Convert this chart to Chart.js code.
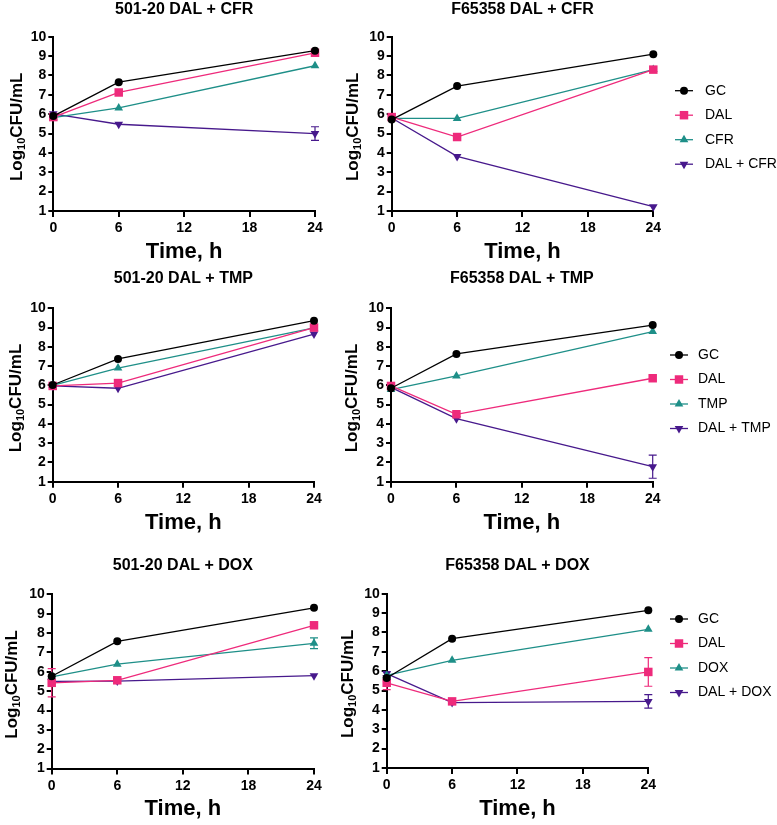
<!DOCTYPE html>
<html>
<head>
<meta charset="utf-8">
<title>Time-kill curves</title>
<script src="https://cdn.jsdelivr.net/npm/chart.js@4.4.1/dist/chart.umd.min.js"></script>
<style>
  html, body { margin: 0; padding: 0; background: #fff; }
  #figure { position: relative; width: 777px; height: 825px; overflow: hidden; }
  #figure canvas { position: absolute; }
</style>
</head>
<body>
<div id="figure"></div>
<script>
// sampling times (h)
const hours = [0, 6, 24];

// one row per panel: 501-20/F65358 x CFR, TMP, DOX
const panelTitles = [
  '501-20 DAL + CFR', 'F65358 DAL + CFR',
  '501-20 DAL + TMP', 'F65358 DAL + TMP',
  '501-20 DAL + DOX', 'F65358 DAL + DOX'
];
const partnerDrugs = ['CFR', 'CFR', 'TMP', 'TMP', 'DOX', 'DOX'];

// mean log10 CFU/mL at 0, 6, 24 h
const gcLog = [
  [5.90, 7.65, 9.28], [5.72, 7.45, 9.10],
  [6.02, 7.37, 9.36], [5.85, 7.63, 9.13],
  [5.77, 7.57, 9.30], [5.65, 7.68, 9.14]
];
const dalLog = [
  [5.85, 7.12, 9.17], [5.85, 4.82, 8.30],
  [5.97, 6.12, 9.00], [5.97, 4.50, 6.37],
  [5.43, 5.56, 8.40], [5.40, 4.44, 5.96]
];
const partnerLog = [
  [5.82, 6.32, 8.50], [5.78, 5.78, 8.30],
  [6.00, 6.90, 8.98], [5.78, 6.49, 8.79],
  [5.74, 6.39, 7.47], [5.78, 6.56, 8.16]
];
const comboLog = [
  [6.02, 5.48, 5.00], [5.80, 3.82, 1.22],
  [5.97, 5.85, 8.66], [5.90, 4.27, 1.78],
  [5.50, 5.52, 5.80], [5.87, 4.38, 4.44]
];

// standard deviations (0 = bar hidden behind marker)
const gcSd = [[0,0,0],[0,0,0],[0,0,0],[0,0,0],[0,0,0],[0,0,0]];
const dalSd = [[0,0,0],[0,0,0],[0,0,0],[0,0,0],[0.73,0,0],[0.35,0,0.74]];
const partnerSd = [[0,0,0],[0,0,0],[0,0,0],[0,0,0],[0,0,0.28],[0,0,0]];
const comboSd = [[0,0,0.35],[0,0,0],[0,0,0],[0,0,0.6],[0,0,0],[0.1,0,0.35]];

const FONT = 'Arial, "Liberation Sans", Helvetica, sans-serif';
const colors = { gc: '#000000', dal: '#EE2A7B', partner: '#1E8F88', combo: '#47198C' };

// canvas box [x, y, w, h] and plot box [left, top, right, bottom] in page px
const panels = [
  { box: [0, 0, 335, 268],   plot: [53.3, 36.7, 315, 211],     titleY: 9.5, labelX: 15.5, timeY: 252 },
  { box: [335, 0, 442, 268], plot: [391.7, 36.7, 653.3, 211],  titleY: 9.5, labelX: 352,  timeY: 252, legend: [675, 705, 90.7] },
  { box: [0, 268, 335, 280], plot: [52.7, 308.3, 314, 481.7],  titleY: 279, labelX: 14.5, timeY: 523 },
  { box: [335, 268, 442, 280], plot: [391, 308.3, 652.7, 481.7], titleY: 279, labelX: 351, timeY: 523, legend: [670, 698, 355] },
  { box: [0, 548, 335, 277], plot: [51.7, 594.3, 314, 768.6],  titleY: 566, labelX: 11,   timeY: 808.5 },
  { box: [335, 548, 442, 277], plot: [386.7, 593.7, 648.3, 768], titleY: 566, labelX: 347, timeY: 808.5, legend: [670, 698, 619] }
];

// SD whiskers drawn under the markers
const errorBars = {
  id: 'errorBars',
  beforeDatasetsDraw(chart) {
    const { ctx } = chart;
    const xs = chart.scales.x, ys = chart.scales.y;
    chart.data.datasets.forEach(ds => {
      if (!ds.sd) return;
      ctx.save();
      ctx.strokeStyle = ds.borderColor;
      ctx.lineWidth = 1.2;
      ds.data.forEach((pt, j) => {
        const sd = ds.sd[j];
        if (!sd) return;
        const x = xs.getPixelForValue(pt.x);
        const yt = ys.getPixelForValue(pt.y + sd);
        const yb = ys.getPixelForValue(pt.y - sd);
        ctx.beginPath();
        ctx.moveTo(x, yt); ctx.lineTo(x, yb);
        ctx.moveTo(x - 4, yt); ctx.lineTo(x + 4, yt);
        ctx.moveTo(x - 4, yb); ctx.lineTo(x + 4, yb);
        ctx.stroke();
      });
      ctx.restore();
    });
  }
};

// panel title, y label with subscript, and the line+marker legend
const panelDecor = {
  id: 'panelDecor',
  afterDraw(chart, args, opts) {
    const { ctx, chartArea: a } = chart;
    ctx.save();
    ctx.fillStyle = '#000';
    ctx.font = `bold 16px ${FONT}`;
    ctx.textAlign = 'center';
    ctx.textBaseline = 'middle';
    ctx.fillText(opts.title, (a.left + a.right) / 2, opts.titleY);

    // Log10CFU/mL, rotated
    ctx.save();
    ctx.translate(opts.labelX, (a.top + a.bottom) / 2 + 3);
    ctx.rotate(-Math.PI / 2);
    const big = `bold 17px ${FONT}`, small = `bold 11px ${FONT}`;
    ctx.font = big;
    const w1 = ctx.measureText('Log').width, w3 = ctx.measureText('CFU/mL').width;
    ctx.font = small;
    const w2 = ctx.measureText('10').width;
    let x = -(w1 + w2 + w3) / 2;
    ctx.textAlign = 'left';
    ctx.textBaseline = 'alphabetic';
    ctx.font = big; ctx.fillText('Log', x, 6); x += w1;
    ctx.font = small; ctx.fillText('10', x, 9); x += w2;
    ctx.font = big; ctx.fillText('CFU/mL', x, 6);
    ctx.restore();

    if (opts.legend) {
      const [lx, tx, y0] = opts.legend;
      chart.data.datasets.forEach((ds, i) => {
        const y = y0 + i * 24.5;
        ctx.strokeStyle = ds.borderColor;
        ctx.lineWidth = ds.borderWidth;
        ctx.beginPath();
        ctx.moveTo(lx, y); ctx.lineTo(lx + 18, y);
        ctx.stroke();
        ctx.fillStyle = ds.pointBackgroundColor;
        Chart.helpers.drawPoint(ctx, {
          pointStyle: ds.pointStyle, radius: ds.pointRadius,
          rotation: ds.pointRotation || 0, borderWidth: 0
        }, lx + 9, y);
        ctx.fillStyle = '#000';
        ctx.font = `14px ${FONT}`;
        ctx.textAlign = 'left';
        ctx.textBaseline = 'middle';
        ctx.fillText(ds.label, tx, y);
      });
    }
    ctx.restore();
  }
};

function series(label, vals, sd, color, style, radius, rotation) {
  return {
    label,
    data: hours.map((h, j) => ({ x: h, y: vals[j] })),
    sd,
    borderColor: color,
    backgroundColor: color,
    borderWidth: 1.3,
    pointStyle: style,
    pointRadius: radius,
    pointHoverRadius: radius,
    pointRotation: rotation,
    pointBackgroundColor: color,
    pointBorderWidth: 0,
    clip: false
  };
}

const fig = document.getElementById('figure');

panels.forEach((p, i) => {
  const [cx, cy, cw, ch] = p.box;
  const [L, T, R, B] = p.plot;
  const canvas = document.createElement('canvas');
  canvas.width = cw; canvas.height = ch;
  canvas.style.left = cx + 'px';
  canvas.style.top = cy + 'px';
  canvas.style.width = cw + 'px';
  canvas.style.height = ch + 'px';
  fig.appendChild(canvas);

  const yAxisWidth = L - cx;
  const xAxisHeight = cy + ch - B;
  const drug = partnerDrugs[i];

  new Chart(canvas.getContext('2d'), {
    type: 'line',
    data: {
      datasets: [
        series('GC', gcLog[i], gcSd[i], colors.gc, 'circle', 4, 0),
        series('DAL', dalLog[i], dalSd[i], colors.dal, 'rect', 6, 0),
        series(drug, partnerLog[i], partnerSd[i], colors.partner, 'triangle', 5, 0),
        series('DAL + ' + drug, comboLog[i], comboSd[i], colors.combo, 'triangle', 5, 180)
      ]
    },
    options: {
      responsive: false,
      maintainAspectRatio: false,
      animation: false,
      events: [],
      layout: { padding: { left: 0, top: T - cy, right: cx + cw - R, bottom: 0 } },
      scales: {
        x: {
          type: 'linear', min: 0, max: 24,
          ticks: { stepSize: 6, autoSkip: false, maxRotation: 0, color: '#000', padding: 3, font: { size: 14, weight: 'bold', family: FONT } },
          grid: { drawOnChartArea: false, drawTicks: true, tickLength: 6, color: '#000', lineWidth: 2 },
          border: { display: true, color: '#000', width: 2 },
          title: {
            display: true, text: 'Time, h', color: '#000',
            font: { size: 22, weight: 'bold', family: FONT },
            padding: { top: 0, bottom: cy + ch - p.timeY - 13.2 }
          },
          afterFit(s) { s.height = xAxisHeight; }
        },
        y: {
          min: 1, max: 10,
          ticks: { stepSize: 1, autoSkip: false, color: '#000', padding: 2, font: { size: 14, weight: 'bold', family: FONT } },
          grid: { drawOnChartArea: false, drawTicks: true, tickLength: 5, color: '#000', lineWidth: 2 },
          border: { display: true, color: '#000', width: 2 },
          afterFit(s) { s.width = yAxisWidth; }
        }
      },
      plugins: {
        legend: { display: false },
        tooltip: { enabled: false },
        panelDecor: {
          title: panelTitles[i],
          titleY: p.titleY - cy,
          labelX: p.labelX - cx,
          legend: p.legend ? [p.legend[0] - cx, p.legend[1] - cx, p.legend[2] - cy] : null
        }
      }
    },
    plugins: [errorBars, panelDecor]
  });
});
</script>
</body>
</html>
